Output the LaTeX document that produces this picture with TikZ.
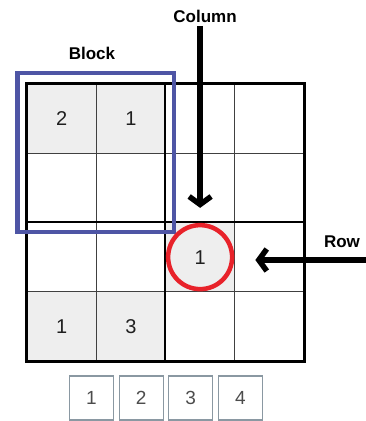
\documentclass[tikz,border=0pt]{standalone}
\usepackage{fontspec}
\setmainfont{Liberation Sans}
\usetikzlibrary{arrows.meta,positioning}
\definecolor{cellgray}{HTML}{EEEEEE}
\definecolor{blockblue}{HTML}{4E55A5}
\definecolor{ringred}{HTML}{E8222A}
\definecolor{choiceedge}{HTML}{8A98A2}

\begin{document}
\begin{tikzpicture}[x=1pt,y=-1pt,
    every node/.style={font=\fontsize{20}{24}\selectfont, text=black!88},
    cell/.style={draw=black!75, line width=0.8pt, minimum size=69.25pt, inner sep=0pt},
    thickline/.style={line width=2.6pt, line cap=rect},
    label/.style={font=\fontsize{17}{20}\selectfont\bfseries, text=black},
    choice/.style={draw=choiceedge, line width=1.2pt, minimum size=44pt, inner sep=0pt,
        text=black!70, font=\fontsize{19}{22}\selectfont},
    bigarrow/.style={line width=5.5pt, -{Straight Barb[length=8pt,width=22pt]}}]
    \useasboundingbox (0,0) rectangle (366,421);
    % 4x4 grid
    \foreach \r in {0,...,3}
        \foreach \c in {0,...,3}
            \node[cell] (c\r\c) at ({27+69.25*(\c+0.5)},{84+69.25*(\r+0.5)}) {};
    % given numbers
    \foreach \r/\c/\n in {0/0/2, 0/1/1, 2/2/1, 3/0/1, 3/1/3}
        \node[cell, fill=cellgray] (g\r\c) at (c\r\c) {\n};
    % block borders
    \draw[thickline] (c00.north west) rectangle (c33.south east);
    \draw[thickline] (c02.north west) -- (c32.south west);
    \draw[thickline] (c20.north west) -- (c23.north east);
    % highlighted block
    \node[draw=blockblue, line width=4.5pt, minimum width=156.5pt, minimum height=159pt] (block) at (95.75,152.5) {};
    \node[label] (blocklbl) at (92,53) {Block};
    % highlighted cell
    \node[draw=ringred, line width=4.5pt, circle, minimum size=64pt] (circ) at (c22) {};
    \node[label] (column) at (205,16) {Column};
    \node[label] (row) at (342,242) {Row};
    \coordinate (rowtail) at (368,260);
    \draw[bigarrow, shorten >=15pt] (column.south -| circ.north) -- (circ.north);
    \draw[bigarrow, shorten >=21pt] (rowtail) -- (rowtail -| circ.east);
    % number choices
    \foreach \n in {1,...,4}
        \node[choice] (opt\n) at ({91.5+49.6*(\n-1)},398) {\n};
\end{tikzpicture}
\end{document}
